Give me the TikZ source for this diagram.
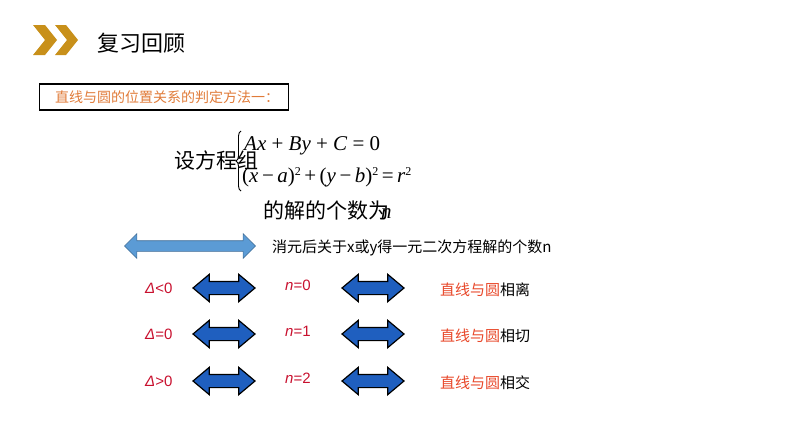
\documentclass[tikz,border=0pt]{standalone}
\usepackage{fontspec}
\setmainfont{Liberation Serif}
\newfontfamily\cjk{Noto Sans CJK SC}
\newfontfamily\lsans{Liberation Sans}
\usetikzlibrary{shapes.arrows,decorations.pathreplacing}
\definecolor{gold}{HTML}{C8901A}
\definecolor{orng}{HTML}{E07B39}
\definecolor{rd}{HTML}{C8102E}
\definecolor{ro}{HTML}{E8482A}
\definecolor{lb}{HTML}{5B9BD5}
\definecolor{db}{HTML}{1F5FBF}
\newcommand{\iv}[1]{\textit{#1}}
\newcommand{\sq}{\raisebox{7pt}{\fontsize{12}{12}\selectfont 2}}
\begin{document}
\begin{tikzpicture}[x=1pt,y=-1pt,
  darr/.style={double arrow, draw=black, line width=1.2pt, fill=db, minimum width=25pt, minimum height=62pt, text height=6pt, text depth=6pt, inner sep=0pt, double arrow tip angle=80},
  lab/.style={font=\cjk\fontsize{15}{15}\selectfont, inner sep=0pt, anchor=west},
  rlab/.style={font=\lsans\fontsize{15}{15}\selectfont, text=rd, inner sep=0pt, anchor=west},
  eqt/.style={font=\rmfamily\fontsize{21}{21}\selectfont, inner sep=0pt, anchor=west}]
\useasboundingbox (0,0) rectangle (794,447);
\fill[gold] (33,25) -- (45,25) -- (57,40) -- (45,55) -- (33,55) -- (45,40) -- cycle;
\fill[gold] (55,25) -- (66,25) -- (78,40) -- (66,55) -- (55,55) -- (67,40) -- cycle;
\node[anchor=west, font=\cjk\fontsize{22}{22}\selectfont, inner sep=0pt] (title) at (97,43) {复习回顾};
\node[draw=black, line width=1.2pt, anchor=west, minimum width=249pt, minimum height=26pt, font=\cjk\fontsize{14}{14}\selectfont, text=orng, inner sep=0pt] (box) at (39,97) {\hspace{6pt}直线与圆的位置关系的判定方法一：\hfill};
\node[anchor=west, font=\cjk\fontsize{21}{21}\selectfont, inner sep=0pt] (sf) at (174,160) {设方程组};
\coordinate (bt) at (241,131);
\coordinate (bb) at (241,191);
\draw[decoration={brace,amplitude=5pt},decorate,line width=0.9pt] (bb) -- (bt);
\node[eqt] (e1) at (244,146) {\iv{Ax} + \iv{By} + \iv{C} = 0};
\node[eqt] (e2) at (242,177) {(\iv{x}\,−\,\iv{a})\sq\,+\,(\iv{y}\,−\,\iv{b})\sq\,=\,\iv{r}\sq};
\node[anchor=west, font=\cjk\fontsize{21}{21}\selectfont, inner sep=0pt] (jie) at (263,211) {的解的个数为\hspace{-8pt}\rmfamily\itshape n};
\node[double arrow, draw=lb!70!black, line width=0.6pt, fill=lb, minimum width=21pt, minimum height=131pt, text height=5pt, text depth=5pt, inner sep=0pt, double arrow tip angle=90] (la) at (190,246) {};
\node[lab] (xy) at (272,248) {消元后关于x或y得一元二次方程解的个数n};
\foreach \y/\r/\n/\t [count=\i] in {288/<0/0/相离,334/=0/1/相切,381/>0/2/相交}{
  \node[rlab] (d\i) at (145,\y) {\textit{Δ}\r};
  \node[darr] (a\i) at (224,\y) {};
  \node[rlab] (n\i) at (285,\y-3) {\textit{n}=\n};
  \node[darr] (b\i) at (373,\y) {};
  \node[lab] (r\i) at (440,\y+2) {\textcolor{ro}{直线与圆}\t};
}
\end{tikzpicture}
\end{document}
